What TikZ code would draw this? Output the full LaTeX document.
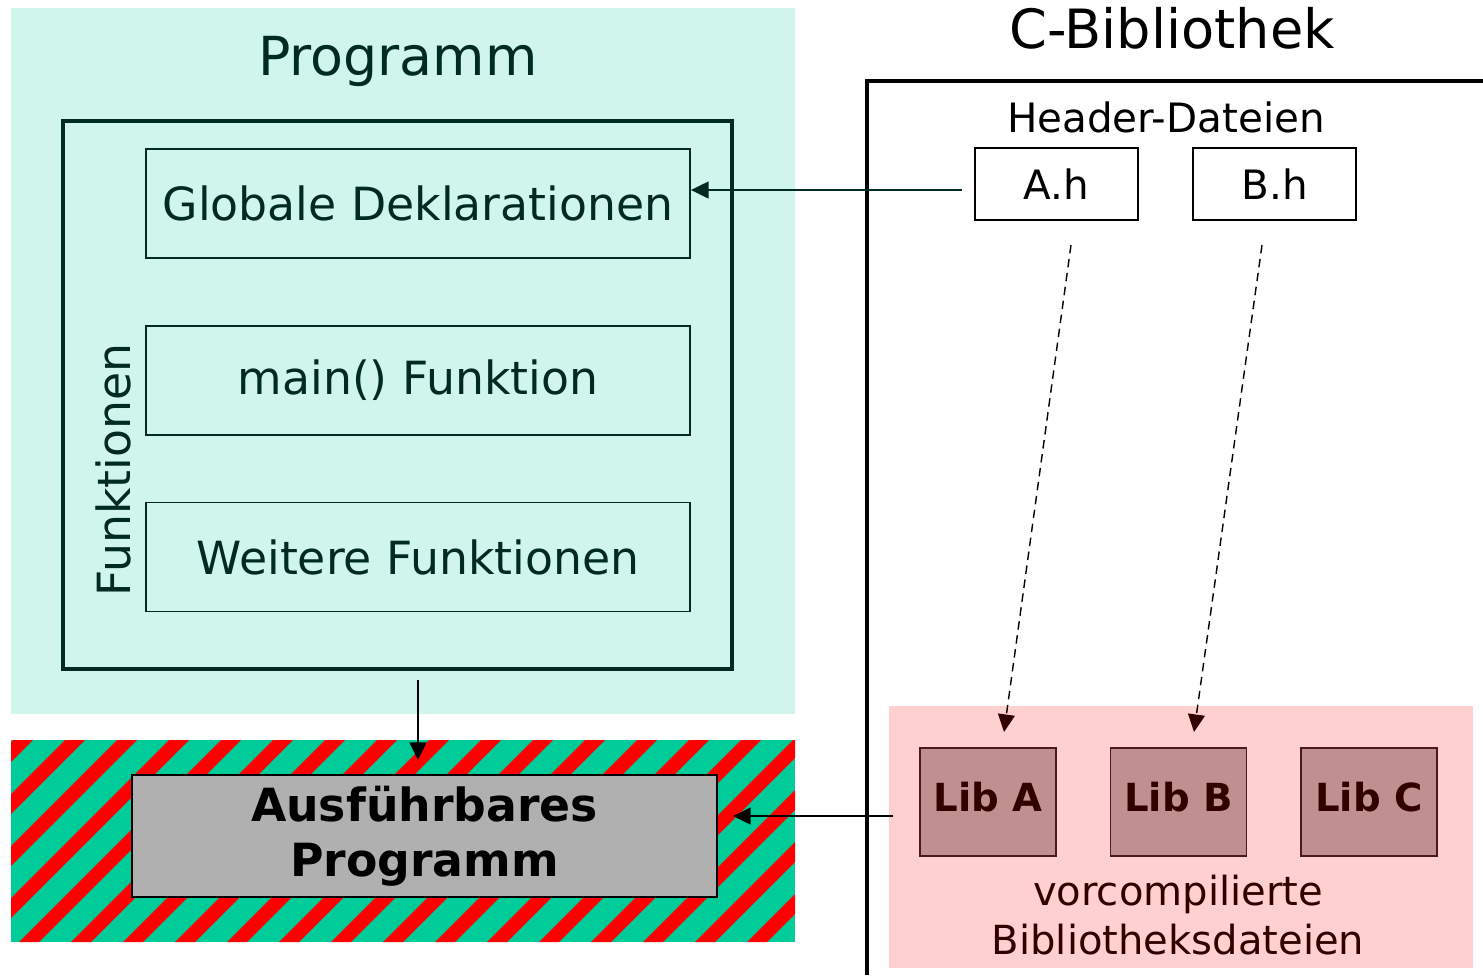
\documentclass[tikz,border=0pt]{standalone}
\usepackage{fontspec}
\setmainfont{DejaVu Sans}
\usetikzlibrary{arrows.meta}
\definecolor{progbg}{RGB}{208,245,236}
\definecolor{progtext}{RGB}{0,43,34}
\definecolor{libbg}{RGB}{255,208,208}
\definecolor{libfill}{RGB}{192,144,144}
\definecolor{libtext}{RGB}{51,0,0}
\definecolor{libline}{RGB}{74,26,26}
\definecolor{stripeteal}{RGB}{0,204,153}
\definecolor{exegray}{RGB}{176,176,176}
\tikzset{
  progbox/.style={draw=progtext, line width=0.45pt, minimum width=5.44cm, minimum height=1.09cm,
    text=progtext, inner sep=0pt, font=\fontsize{13pt}{15.6pt}\selectfont},
  hbox/.style={draw=black, line width=0.45pt, minimum width=1.63cm, minimum height=0.72cm,
    inner sep=0pt, font=\fontsize{11.5pt}{13.8pt}\selectfont},
  libbox/.style={draw=libline, line width=0.45pt, fill=libfill, minimum width=1.36cm, minimum height=1.08cm,
    text=libtext, inner sep=0pt, text depth=0.1cm, font=\fontsize{11pt}{13pt}\selectfont\bfseries},
  arr/.style={-{Triangle[length=5pt,width=4.8pt]}, line width=0.4pt},
  dasharr/.style={line width=0.4pt, dash pattern=on 2.4pt off 1.6pt, draw=black,
    -{Triangle[length=5pt,width=4.8pt,color=libtext]}},
}
\begin{document}
\begin{tikzpicture}[x=0.01cm, y=-0.01cm]
\useasboundingbox (0,0) rectangle (1483,975);
% backgrounds
\fill[progbg] (11,8) rectangle (795,714);
\fill[libbg] (889,706) rectangle (1473,968);
% striped region
\fill[stripeteal] (11,740) rectangle (795,942);
\begin{scope}
  \clip (11,740) rectangle (795,942);
  \foreach \k in {-1,...,20} {
    \pgfmathsetmacro{\c}{753+52*\k}
    \fill[red] (\c-740,740) -- (\c+20-740,740) -- (\c+20-942,942) -- (\c-942,942) -- cycle;
  }
\end{scope}
% titles
\node[anchor=base, text=progtext, font=\fontsize{15.3pt}{18pt}\selectfont] (ptitle) at (398,75) {Programm};
\node[anchor=base, font=\fontsize{15.4pt}{18pt}\selectfont] (ctitle) at (1172,48) {C-Bibliothek};
\node[anchor=base, font=\fontsize{11.5pt}{13.8pt}\selectfont] (htitle) at (1166,132) {Header-Dateien};
% Funktionen frame
\node[draw=progtext, line width=1.15pt, minimum width=6.69cm, minimum height=5.48cm, inner sep=0pt] (fbox) at (397.5,395) {};
\node[rotate=90, text=progtext, font=\fontsize{13pt}{15.6pt}\selectfont] (flabel) at (113,470) {Funktionen};
\node[progbox] (glob) at (418,203.5) {Globale Deklarationen};
\node[progbox] (main) at (418,380.5) {main() Funktion};
\node[progbox] (weit) at (418,557) {Weitere Funktionen};
% executable
\node[draw=black, line width=0.6pt, fill=exegray, minimum width=5.85cm, minimum height=1.22cm, inner sep=0pt,
  align=center, font=\fontsize{13pt}{15.6pt}\selectfont\bfseries] (exe) at (424.5,836) {Ausführbares\\Programm};
% C library frame
\draw[line width=1.4pt] (867,975) -- (867,81) -- (1483,81);
\node[hbox] (ah) at (1056.5,184) {A.h};
\node[hbox] (bh) at (1274.5,184) {B.h};
\node[libbox] (liba) at (988,802) {Lib A};
\node[libbox] (libb) at (1178.5,802) {Lib B};
\node[libbox] (libc) at (1369,802) {Lib C};
\node[text=libtext, align=center, font=\fontsize{11.4pt}{14.2pt}\selectfont] (vlabel) at (1178,915) {vorcompilierte\\Bibliotheksdateien};
% connectors
\coordinate (hstart) at (962,190);
\draw[arr, draw=progtext, fill=progtext] (hstart) -- (hstart -| glob.east);
\coordinate (pstart) at (418,680);
\coordinate (pend) at (418,760);
\draw[arr] (pstart) -- (pend);
\coordinate (lstart) at (893,816);
\coordinate (lend) at (733,816);
\draw[arr] (lstart) -- (lend);
\coordinate (adash) at (1071,245);
\coordinate (aend) at (1004,732);
\coordinate (bdash) at (1262,245);
\coordinate (bend) at (1194,732);
\draw[dasharr] (adash) -- (aend);
\draw[dasharr] (bdash) -- (bend);
\end{tikzpicture}
\end{document}
